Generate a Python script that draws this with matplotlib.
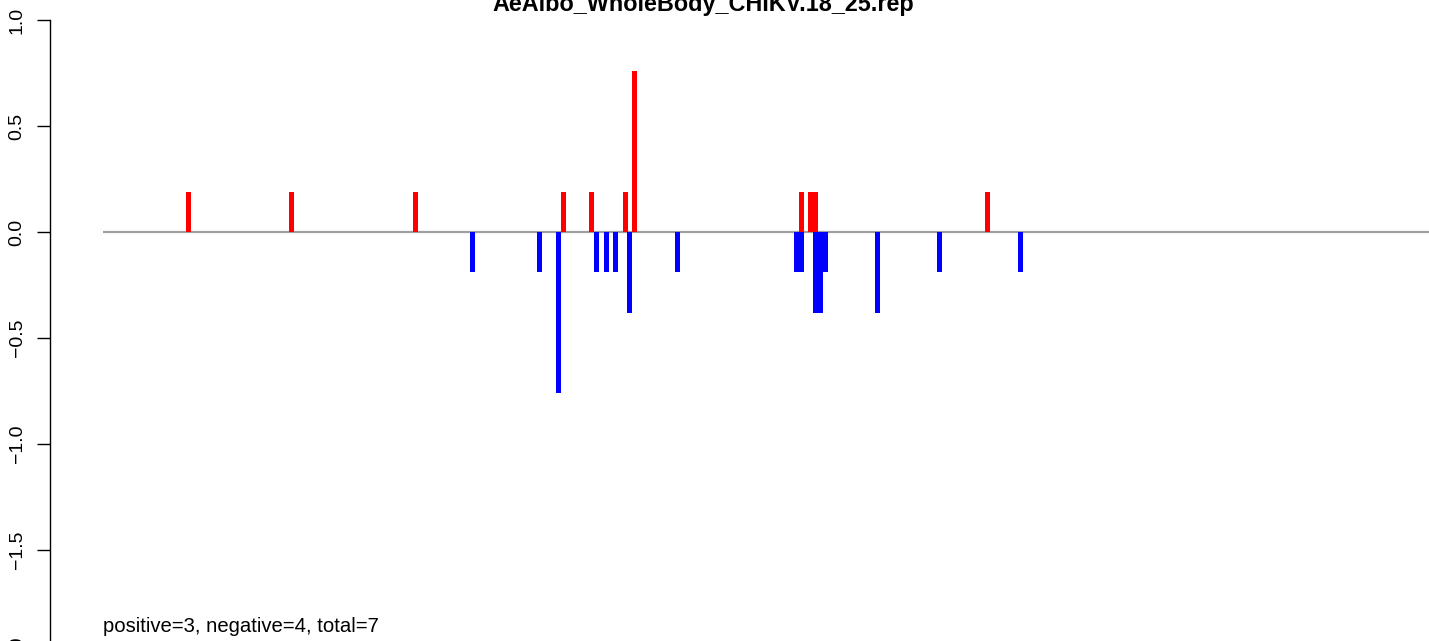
import numpy as np
import matplotlib
matplotlib.use("Agg")
import matplotlib.pyplot as plt

plt.rcParams['font.family'] = ['Liberation Sans', 'DejaVu Sans']
plt.rcParams['axes.unicode_minus'] = True

title = "AeAlbo_WholeBody_CHIKV.18_25.rep"
note = "positive=3, negative=4, total=7"

# positions along the track and signed scores
pos_x = [17.0, 37.7, 62.5, 92.1, 97.7, 104.5, 106.3, 139.7, 141.5, 142.5, 176.9]
pos_y = [0.19, 0.19, 0.19, 0.19, 0.19, 0.19, 0.76, 0.19, 0.19, 0.19, 0.19]
neg_x = [73.9, 87.3, 91.1, 98.7, 100.7, 102.5, 105.3, 114.9, 138.7, 139.7,
         142.5, 143.5, 144.5, 154.9, 167.3, 183.5]
neg_y = [-0.19, -0.19, -0.76, -0.19, -0.19, -0.19, -0.38, -0.19, -0.19, -0.19,
         -0.38, -0.38, -0.19, -0.38, -0.19, -0.19]
yticks = [-2.0, -1.5, -1.0, -0.5, 0.0, 0.5, 1.0]

W, H = 1429, 641
fig = plt.figure(figsize=(W / 100, H / 100), dpi=100)

# axes run past the figure top/bottom like the cropped original
y_lo, y_hi = -2.12, 1.12
px_per = 212.0
top_px = 232 - px_per * y_hi
bot_px = 232 - px_per * y_lo
x_lo = (50 - 103) / 5.0
x_hi = (1429 - 103) / 5.0
ax = fig.add_axes([50 / W, 1 - bot_px / H, (1429 - 50) / W, (bot_px - top_px) / H])
ax.set_xlim(x_lo, x_hi)
ax.set_ylim(y_lo, y_hi)

ax.hlines(0, 0, 400, color='#a0a0a0', lw=1.6, zorder=1)
ax.bar(pos_x, pos_y, width=1.0, color='red', align='center', zorder=2)
ax.bar(neg_x, neg_y, width=1.0, color='blue', align='center', zorder=2)

for s in ['top', 'right', 'bottom']:
    ax.spines[s].set_visible(False)
ax.spines['left'].set_bounds(-2.0, 1.0)
ax.spines['left'].set_linewidth(1.0)
ax.set_xticks([])
ax.set_yticks(yticks)
ax.set_yticklabels([("%.1f" % t).replace("-", "\u2212") for t in yticks],
                   rotation=90, va='center', fontsize=14)
ax.tick_params(axis='y', length=9.5, width=1.0, pad=8)

ax.text(0, (232 - 632) / px_per, note, fontsize=14.6, ha='left', va='baseline')
fig.text(703 / W, 1 - 11 / H, title, fontsize=16.8, fontweight='bold',
         ha='center', va='baseline')

fig.savefig("out.png", dpi=100)
